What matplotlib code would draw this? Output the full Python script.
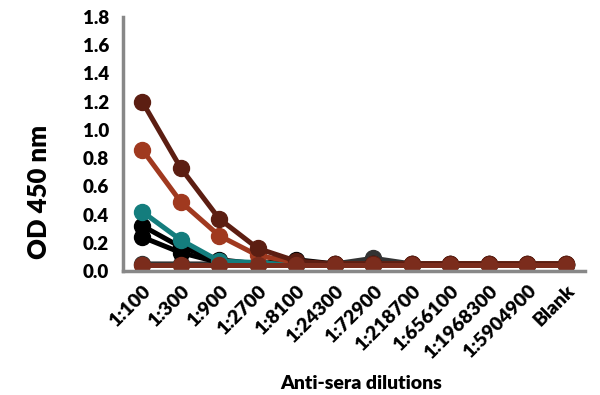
import matplotlib
matplotlib.use("Agg")
import matplotlib.pyplot as plt

# categories on the x axis
dilutions = ['1:100', '1:300', '1:900', '1:2700', '1:8100', '1:24300', '1:72900',
             '1:218700', '1:656100', '1:1968300', '1:5904900', 'Blank']

# OD readings per serum
serum_a = [1.20, 0.73, 0.37, 0.16, 0.07, 0.05, 0.05, 0.05, 0.05, 0.05, 0.05, 0.05]
serum_b = [0.86, 0.49, 0.25, 0.11, 0.06, 0.05, 0.05, 0.05, 0.05, 0.05, 0.05, 0.05]
serum_c = [0.42, 0.22, 0.07, 0.06, 0.04, 0.04, 0.04, 0.04, 0.04, 0.04, 0.04, 0.04]
serum_d = [0.32, 0.17, 0.08, 0.05, 0.08, 0.05, 0.05, 0.05, 0.05, 0.05, 0.05, 0.05]
serum_e = [0.24, 0.13, 0.06, 0.05, 0.05, 0.05, 0.05, 0.05, 0.05, 0.05, 0.05, 0.05]
serum_f = [0.05, 0.05, 0.05, 0.05, 0.05, 0.05, 0.09, 0.05, 0.05, 0.05, 0.04, 0.04]
pre_immune = [0.04, 0.04, 0.04, 0.04, 0.04, 0.04, 0.04, 0.04, 0.04, 0.04, 0.04, 0.04]

plt.rcParams['font.family'] = ['Lato', 'DejaVu Sans']
plt.rcParams['font.weight'] = 'bold'

fig = plt.figure(figsize=(6, 3.95), dpi=100)
ax = fig.add_axes([0.205, 0.314, 0.77, 0.643])

x = range(len(dilutions))
style = dict(marker='o', markersize=11.5, linewidth=3.6)
ax.plot(x, serum_f, color='#333333', **style)
ax.plot(x, serum_e, color='#000000', **style)
ax.plot(x, serum_d, color='#000000', **style)
ax.plot(x, serum_c, color='#147d7d', **style)
ax.plot(x, serum_b, color='#a0391f', **style)
ax.plot(x, serum_a, color='#5c1e12', **style)
ax.plot(x, pre_immune, color='#7b2c1c', **style)

ax.set_xlim(-0.5, len(dilutions) - 0.5)
ax.set_ylim(0, 1.8)
ax.set_yticks([i * 0.2 for i in range(10)])
ax.set_yticklabels(['%.1f' % (i * 0.2) for i in range(10)], fontsize=13.5, fontweight='heavy')
ax.set_xticks(list(x))
ax.set_xticklabels(dilutions, rotation=45, ha='right', rotation_mode='anchor',
                   fontsize=14, fontweight='heavy')
ax.tick_params(axis='y', length=0, pad=10)
ax.tick_params(axis='x', length=0, pad=8)

for s in ['top', 'right']:
    ax.spines[s].set_visible(False)
for s in ['left', 'bottom']:
    ax.spines[s].set_color('#888888')
    ax.spines[s].set_linewidth(2.5)

ax.set_ylabel('OD 450 nm', fontsize=18.5, fontweight='heavy')
ax.yaxis.set_label_coords(-0.155, 0.31)
ax.set_xlabel('Anti-sera dilutions', fontsize=14, fontweight='heavy')
ax.xaxis.set_label_coords(0.515, -0.41)

fig.savefig('out.png', dpi=100)
